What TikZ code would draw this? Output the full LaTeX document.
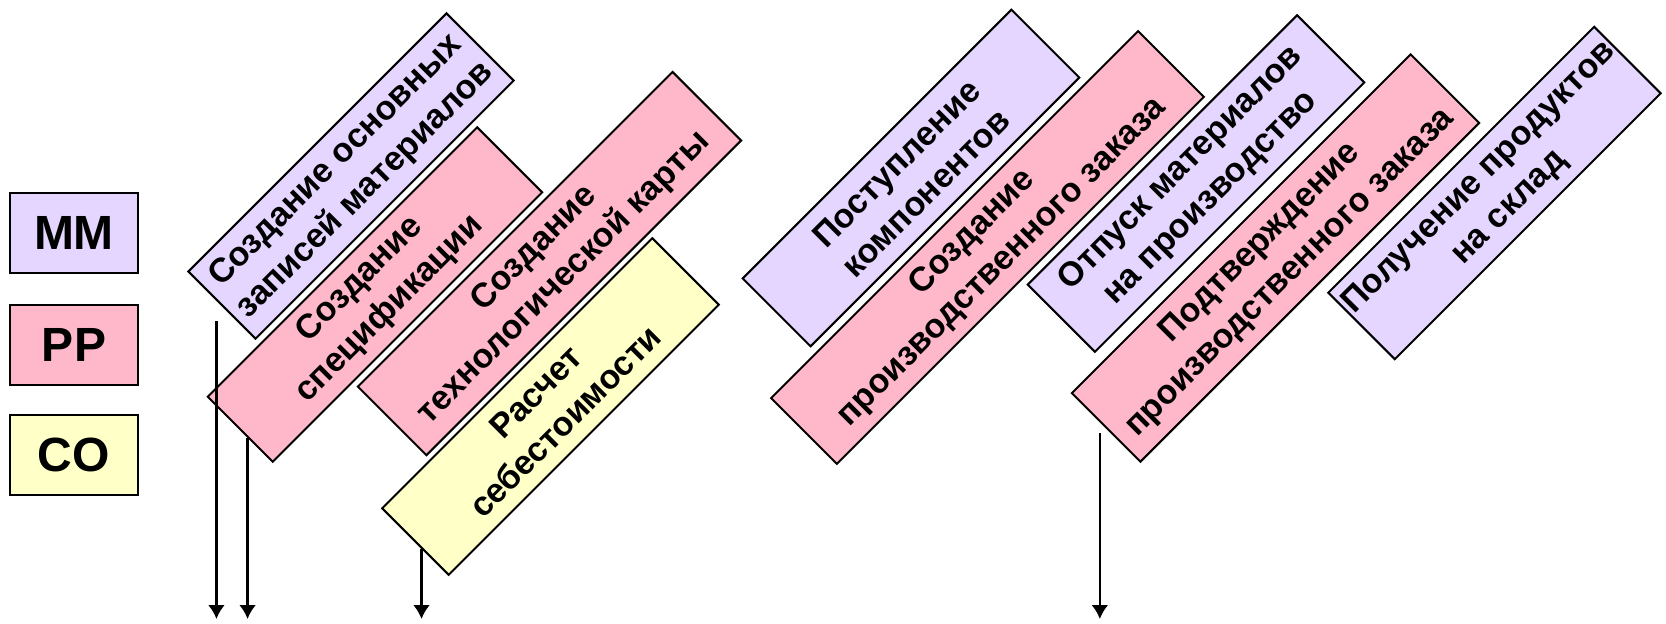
\documentclass[tikz,border=0pt]{standalone}
\usepackage{fontspec}
\setmainfont{Liberation Sans}
\usepackage{tikz}
\usetikzlibrary{arrows.meta, calc}

\definecolor{mmfill}{RGB}{229,214,255}
\definecolor{ppfill}{RGB}{255,184,202}
\definecolor{cofill}{RGB}{255,255,200}

\begin{document}
\begin{tikzpicture}[x=0.5pt, y=-0.5pt,
    proc/.style={draw, line width=1pt, rotate=45, align=center, inner sep=0pt,
        font=\bfseries\fontsize{17}{21}\selectfont},
    legend/.style={draw, line width=1pt, minimum width=64pt, minimum height=40pt,
        inner sep=0pt, font=\bfseries\fontsize{24}{26}\selectfont},
    flow/.style={-{Latex[length=7pt,width=8.5pt]}, line width=1.3pt}]
    \useasboundingbox (0,0) rectangle (1666,623);
    % legend
    \node[legend, fill=mmfill] (legMM) at (74,233) {MM};
    \node[legend, fill=ppfill] (legPP) at (74,345) {PP};
    \node[legend, fill=cofill] (legCO) at (74,455) {CO};
    % planning
    \node[proc, fill=mmfill, minimum width=182.5pt, minimum height=47.5pt] (mmA) at (351,176) {Создание основных\\записей материалов};
    \node[proc, fill=ppfill, minimum width=190.5pt, minimum height=46pt] (ppA) at (375,294.5) {Создание\\спецификации};
    \node[proc, fill=ppfill, minimum width=222.5pt, minimum height=48.5pt] (ppB) at (549.5,263.5) {Создание\\технологической карты};
    \node[proc, fill=cofill, minimum width=191pt, minimum height=47pt] (coA) at (550.5,406.5) {Расчет\\себестоимости};
    % execution
    \node[proc, fill=mmfill, minimum width=190pt, minimum height=48pt] (mmB) at (911,178) {Поступление\\компонентов};
    \node[proc, fill=ppfill, minimum width=259.5pt, minimum height=46.5pt] (ppC) at (987.5,247.5) {Создание\\производственного заказа};
    \node[proc, fill=mmfill, minimum width=190.5pt, minimum height=47.5pt] (mmC) at (1196,183.5) {Отпуск материалов\\на производство};
    \node[proc, fill=ppfill, minimum width=239.5pt, minimum height=48.5pt] (ppD) at (1275.5,258) {Подтверждение\\производственного заказа};
    \node[proc, fill=mmfill, minimum width=188pt, minimum height=47pt] (mmD) at (1494.5,193) {Получение продуктов\\на склад};
    % arrows
    \coordinate (base) at (0,619);
    \coordinate (a1) at ($(mmA.north west)!0.43!(mmA.south west)+(0,20)$);
    \coordinate (a2) at ($(ppA.north west)!0.62!(ppA.south west)$);
    \coordinate (a3) at ($(coA.north west)!0.6!(coA.south west)$);
    \coordinate (a4) at ($(ppD.north west)!0.42!(ppD.south west)+(0,11)$);
    \draw[flow] (a1) -- (a1 |- base);
    \draw[flow] (a2) -- (a2 |- base);
    \draw[flow] (a3) -- (a3 |- base);
    \draw[flow] (a4) -- (a4 |- base);
\end{tikzpicture}
\end{document}
